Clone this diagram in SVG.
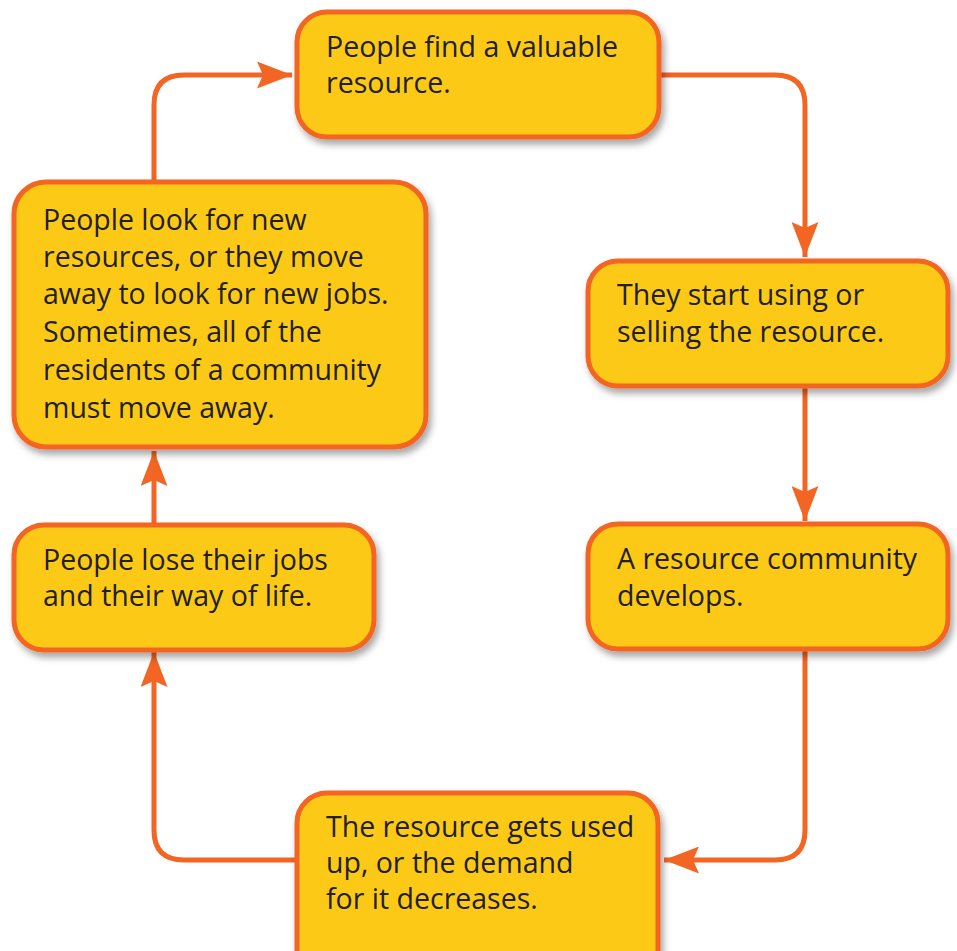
<svg xmlns="http://www.w3.org/2000/svg" width="957" height="951" viewBox="0 0 957 951">
<defs>
<filter id="sh" x="-10%" y="-10%" width="125%" height="130%">
<feDropShadow dx="3" dy="5" stdDeviation="3.5" flood-color="#000" flood-opacity="0.35"/>
</filter>
<marker id="ah" markerWidth="7" markerHeight="5.4" refX="7" refY="2.7" orient="auto" markerUnits="strokeWidth">
<path d="M0,0 L7,2.7 L0,5.4 L1.2,2.7 Z" fill="#F26522"/>
</marker>
<style>
.box{fill:#FCC912;stroke:#F26522;stroke-width:5;filter:url(#sh)}
.t{font-family:"Open Sans","Noto Sans","DejaVu Sans",sans-serif;font-size:28.5px;fill:#231F20}
.c{fill:none;stroke:#F26522;stroke-width:5;marker-end:url(#ah)}
</style>
</defs>
<rect width="957" height="951" fill="#fff"/>
<g id="connectors">
<path class="c" d="M154,181 V105 Q154,75 184,75 H292"/>
<path class="c" d="M659,75 H775 Q805,75 805,105 V257"/>
<path class="c" d="M805,386 V521"/>
<path class="c" d="M805,649 V830 Q805,860 775,860 H664"/>
<path class="c" d="M297,860 H184 Q154,860 154,830 V652"/>
<path class="c" d="M154,524 V451"/>
</g>
<g id="n1">
<rect class="box" x="297" y="12" width="362" height="125" rx="30"/>
<text class="t"><tspan x="326" y="57">People find a valuable</tspan><tspan x="326" y="93">resource.</tspan></text>
</g>
<g id="n2">
<rect class="box" x="588" y="261" width="360" height="125" rx="30"/>
<text class="t"><tspan x="617" y="305">They start using or</tspan><tspan x="617" y="342">selling the resource.</tspan></text>
</g>
<g id="n3">
<rect class="box" x="588" y="524" width="360" height="125" rx="30"/>
<text class="t"><tspan x="617" y="569">A resource community</tspan><tspan x="617" y="606">develops.</tspan></text>
</g>
<g id="n4">
<rect class="box" x="297" y="793" width="361" height="190" rx="30"/>
<text class="t"><tspan x="326" y="837">The resource gets used</tspan><tspan x="326" y="873">up, or the demand</tspan><tspan x="326" y="909">for it decreases.</tspan></text>
</g>
<g id="n5">
<rect class="box" x="14" y="525" width="360" height="125" rx="30"/>
<text class="t"><tspan x="43" y="570">People lose their jobs</tspan><tspan x="43" y="606">and their way of life.</tspan></text>
</g>
<g id="n6">
<rect class="box" x="14" y="182" width="412" height="265" rx="32"/>
<text class="t"><tspan x="43" y="230">People look for new</tspan><tspan x="43" y="267">resources, or they move</tspan><tspan x="43" y="304">away to look for new jobs.</tspan><tspan x="43" y="342">Sometimes, all of the</tspan><tspan x="43" y="380">residents of a community</tspan><tspan x="43" y="418">must move away.</tspan></text>
</g>
</svg>
